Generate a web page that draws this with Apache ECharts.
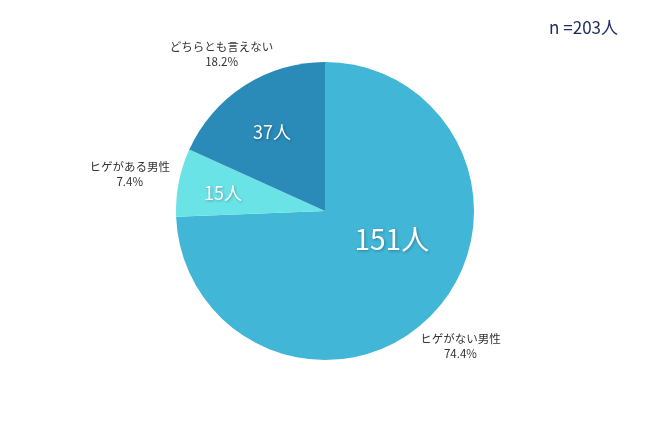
<!DOCTYPE html>
<html><head><meta charset="utf-8">
<script src="https://cdn.jsdelivr.net/npm/echarts@6/dist/echarts.min.js"></script>
<style>html,body{margin:0;padding:0;background:#fff}#c{width:650px;height:423px}</style>
</head><body><div id="c"></div>
<script>
const categories = ['ヒゲがない男性', 'ヒゲがある男性', 'どちらとも言えない'];
const counts = [151, 15, 37];
const percents = ['74.4%', '7.4%', '18.2%'];
const total = 203;

const colors = ['#41B6D6', '#6AE3E7', '#2A8BB9'];
const innerOffsets = [[11, -25], [-26, -3], [-11, -14]];
const innerSizes = [28, 18, 18];
const outerLen = [32, 53, 40];
const outerShift = [[0, 10], [8, 2], [4, 2]];

const chart = echarts.init(document.getElementById('c'));
const font = '"Noto Sans CJK JP", "Noto Sans", sans-serif';

chart.setOption({
  backgroundColor: '#ffffff',
  animation: false,
  title: {
    text: 'n =' + total + '人',
    right: 27, top: 14,
    textStyle: { fontFamily: font, fontSize: 17, fontWeight: 'normal', color: '#1d2a5c' }
  },
  series: [
    {
      type: 'pie',
      center: [325, 211], radius: [0, 149],
      startAngle: 90, clockwise: true,
      silent: true,
      data: categories.map((n, i) => ({
        name: n, value: counts[i],
        itemStyle: { color: colors[i] },
        label: { offset: innerOffsets[i], fontSize: innerSizes[i] }
      })),
      label: {
        show: true, position: 'inside',
        formatter: p => p.value + '人',
        color: '#ffffff', fontFamily: font,
        textShadowColor: 'rgba(0,0,0,0.3)', textShadowBlur: 3, textShadowOffsetX: 1, textShadowOffsetY: 1
      },
      labelLine: { show: false }
    },
    {
      type: 'pie',
      center: [325, 211], radius: [0, 149],
      startAngle: 90, clockwise: true,
      silent: true,
      z: 1,
      data: categories.map((n, i) => ({
        name: n, value: counts[i],
        itemStyle: { color: 'rgba(0,0,0,0)' },
        labelLine: { show: false, length: outerLen[i], length2: 0 }
      })),
      label: {
        show: true, position: 'outside',
        formatter: p => p.name + '\n' + percents[p.dataIndex],
        color: '#333333', fontFamily: font, fontSize: 11.5, lineHeight: 15,
        align: 'center'
      },
      labelLayout: p => ({
        align: 'center', verticalAlign: 'middle',
        dx: outerShift[p.dataIndex][0], dy: outerShift[p.dataIndex][1]
      })
    }
  ]
});
</script></body></html>
